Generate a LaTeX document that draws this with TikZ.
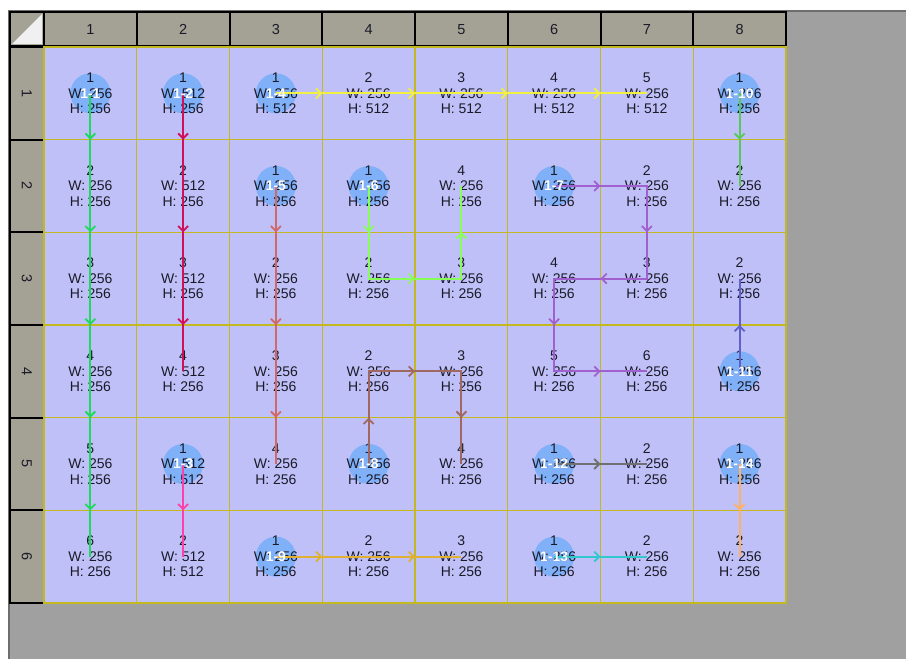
\documentclass[tikz,border=0pt]{standalone}
\usepackage{fontspec}
\setmainfont{Liberation Sans}
\usetikzlibrary{arrows.meta,decorations.markings}
\pgfdeclarelayer{background}
\pgfsetlayers{background,main}

\definecolor{panel}{HTML}{A0A0A0}
\definecolor{rim}{HTML}{6E6E6E}
\definecolor{headfill}{HTML}{A4A295}
\definecolor{tilefill}{HTML}{C0C0F8}
\definecolor{gridline}{HTML}{C4B820}
\definecolor{bubble}{HTML}{80B0F8}
\definecolor{ink}{HTML}{1A1A28}
\definecolor{rgreen}{HTML}{20D860}
\definecolor{rcrimson}{HTML}{D0105A}
\definecolor{rpink}{HTML}{FF40A8}
\definecolor{ryellow}{HTML}{F0F040}
\definecolor{rsalmon}{HTML}{D06868}
\definecolor{rlime}{HTML}{88FF58}
\definecolor{rpurple}{HTML}{A060D0}
\definecolor{rbrown}{HTML}{A06860}
\definecolor{rgold}{HTML}{E0B030}
\definecolor{rleaf}{HTML}{58C858}
\definecolor{rslate}{HTML}{6060C8}
\definecolor{rgray}{HTML}{707070}
\definecolor{rcyan}{HTML}{30C8C8}
\definecolor{rorange}{HTML}{FFB060}

\tikzset{
  head/.style={fill=headfill,draw=black,line width=2pt,inner sep=0pt,text=ink,text height=10.2pt,text depth=0pt,font=\fontsize{14.5}{16}\selectfont},
  colhead/.style={head,minimum width=92.75pt,minimum height=34pt},
  rowhead/.style={head,rotate=-90,minimum width=92.67pt,minimum height=34pt},
  tile/.style={draw=gridline,line width=1.4pt,minimum width=92.75pt,minimum height=92.67pt,inner sep=0pt,align=center,text=ink,font=\fontsize{14}{15.5}\selectfont},
  dot/.style={circle,fill=bubble,minimum size=40pt,inner sep=0pt},
  tag/.style={inner sep=0pt,text=white,font=\fontsize{14}{16}\selectfont\bfseries},
  route/.style={line width=1.8pt,line join=miter,postaction={decorate,decoration={markings,
    mark=between positions 0.5/#1 and 1 step 1/#1 with {\arrow{Straight Barb[length=5pt,width=10pt]}}}}}
}

\begin{document}
\begin{tikzpicture}[x=1pt,y=-1pt]
\path[use as bounding box] (0,0) rectangle (906,659);
% header row and column
\node[head,minimum size=34pt] (corner) at (27,29) {};
\fill[white!94!black] ([shift={(3pt,3pt)}]corner.south west) -- ([shift={(-3pt,3pt)}]corner.south east) -- ([shift={(-3pt,-3pt)}]corner.north east) -- cycle;
\node[colhead] (h1) at (90.38,29) {1};
\node[colhead] (h2) at (183.13,29) {2};
\node[colhead] (h3) at (275.88,29) {3};
\node[colhead] (h4) at (368.63,29) {4};
\node[colhead] (h5) at (461.38,29) {5};
\node[colhead] (h6) at (554.13,29) {6};
\node[colhead] (h7) at (646.88,29) {7};
\node[colhead] (h8) at (739.63,29) {8};
\node[rowhead] (v1) at (27,93.33) {1};
\node[rowhead] (v2) at (27,186.00) {2};
\node[rowhead] (v3) at (27,278.67) {3};
\node[rowhead] (v4) at (27,371.33) {4};
\node[rowhead] (v5) at (27,464.00) {5};
\node[rowhead] (v6) at (27,556.67) {6};
% tiles
\node[tile] (c11) at (90.38,93.33) {1\\W: 256\\H: 256};
\node[tile] (c12) at (90.38,186.00) {2\\W: 256\\H: 256};
\node[tile] (c13) at (90.38,278.67) {3\\W: 256\\H: 256};
\node[tile] (c14) at (90.38,371.33) {4\\W: 256\\H: 256};
\node[tile] (c15) at (90.38,464.00) {5\\W: 256\\H: 256};
\node[tile] (c16) at (90.38,556.67) {6\\W: 256\\H: 256};
\node[tile] (c21) at (183.13,93.33) {1\\W: 512\\H: 256};
\node[tile] (c22) at (183.13,186.00) {2\\W: 512\\H: 256};
\node[tile] (c23) at (183.13,278.67) {3\\W: 512\\H: 256};
\node[tile] (c24) at (183.13,371.33) {4\\W: 512\\H: 256};
\node[tile] (c25) at (183.13,464.00) {1\\W: 512\\H: 512};
\node[tile] (c26) at (183.13,556.67) {2\\W: 512\\H: 512};
\node[tile] (c31) at (275.88,93.33) {1\\W: 256\\H: 512};
\node[tile] (c32) at (275.88,186.00) {1\\W: 256\\H: 256};
\node[tile] (c33) at (275.88,278.67) {2\\W: 256\\H: 256};
\node[tile] (c34) at (275.88,371.33) {3\\W: 256\\H: 256};
\node[tile] (c35) at (275.88,464.00) {4\\W: 256\\H: 256};
\node[tile] (c36) at (275.88,556.67) {1\\W: 256\\H: 256};
\node[tile] (c41) at (368.63,93.33) {2\\W: 256\\H: 512};
\node[tile] (c42) at (368.63,186.00) {1\\W: 256\\H: 256};
\node[tile] (c43) at (368.63,278.67) {2\\W: 256\\H: 256};
\node[tile] (c44) at (368.63,371.33) {2\\W: 256\\H: 256};
\node[tile] (c45) at (368.63,464.00) {1\\W: 256\\H: 256};
\node[tile] (c46) at (368.63,556.67) {2\\W: 256\\H: 256};
\node[tile] (c51) at (461.38,93.33) {3\\W: 256\\H: 512};
\node[tile] (c52) at (461.38,186.00) {4\\W: 256\\H: 256};
\node[tile] (c53) at (461.38,278.67) {3\\W: 256\\H: 256};
\node[tile] (c54) at (461.38,371.33) {3\\W: 256\\H: 256};
\node[tile] (c55) at (461.38,464.00) {4\\W: 256\\H: 256};
\node[tile] (c56) at (461.38,556.67) {3\\W: 256\\H: 256};
\node[tile] (c61) at (554.13,93.33) {4\\W: 256\\H: 512};
\node[tile] (c62) at (554.13,186.00) {1\\W: 256\\H: 256};
\node[tile] (c63) at (554.13,278.67) {4\\W: 256\\H: 256};
\node[tile] (c64) at (554.13,371.33) {5\\W: 256\\H: 256};
\node[tile] (c65) at (554.13,464.00) {1\\W: 256\\H: 256};
\node[tile] (c66) at (554.13,556.67) {1\\W: 256\\H: 256};
\node[tile] (c71) at (646.88,93.33) {5\\W: 256\\H: 512};
\node[tile] (c72) at (646.88,186.00) {2\\W: 256\\H: 256};
\node[tile] (c73) at (646.88,278.67) {3\\W: 256\\H: 256};
\node[tile] (c74) at (646.88,371.33) {6\\W: 256\\H: 256};
\node[tile] (c75) at (646.88,464.00) {2\\W: 256\\H: 256};
\node[tile] (c76) at (646.88,556.67) {2\\W: 256\\H: 256};
\node[tile] (c81) at (739.63,93.33) {1\\W: 256\\H: 256};
\node[tile] (c82) at (739.63,186.00) {2\\W: 256\\H: 256};
\node[tile] (c83) at (739.63,278.67) {2\\W: 256\\H: 256};
\node[tile] (c84) at (739.63,371.33) {1\\W: 256\\H: 256};
\node[tile] (c85) at (739.63,464.00) {1\\W: 256\\H: 256};
\node[tile] (c86) at (739.63,556.67) {2\\W: 256\\H: 256};
% panel, tile fill and bubbles go underneath
\begin{pgfonlayer}{background}
\fill[white] (0,0) rectangle (906,659);
\fill[panel] (8,10) rectangle (906,659);
\draw[rim,line width=1.5pt] (8.75,659) -- (8.75,10.75) -- (906,10.75);
\fill[tilefill] (44,47) rectangle (786,603);
\node[dot] (k11) at (c11) {};
\node[dot] (k21) at (c21) {};
\node[dot] (k25) at (c25) {};
\node[dot] (k31) at (c31) {};
\node[dot] (k32) at (c32) {};
\node[dot] (k42) at (c42) {};
\node[dot] (k62) at (c62) {};
\node[dot] (k45) at (c45) {};
\node[dot] (k36) at (c36) {};
\node[dot] (k81) at (c81) {};
\node[dot] (k84) at (c84) {};
\node[dot] (k65) at (c65) {};
\node[dot] (k66) at (c66) {};
\node[dot] (k85) at (c85) {};
\end{pgfonlayer}
% routes
\draw[route=5,rgreen] (c11.center) -- (c12.center) -- (c13.center) -- (c14.center) -- (c15.center) -- (c16.center);
\draw[route=3,rcrimson] (c21.center) -- (c22.center) -- (c23.center) -- (c24.center);
\draw[route=1,rpink] (c25.center) -- (c26.center);
\draw[route=4,ryellow] (c31.center) -- (c41.center) -- (c51.center) -- (c61.center) -- (c71.center);
\draw[route=3,rsalmon] (c32.center) -- (c33.center) -- (c34.center) -- (c35.center);
\draw[route=3,rlime] (c42.center) -- (c43.center) -- (c53.center) -- (c52.center);
\draw[route=5,rpurple] (c62.center) -- (c72.center) -- (c73.center) -- (c63.center) -- (c64.center) -- (c74.center);
\draw[route=3,rbrown] (c45.center) -- (c44.center) -- (c54.center) -- (c55.center);
\draw[route=2,rgold] (c36.center) -- (c46.center) -- (c56.center);
\draw[route=1,rleaf] (c81.center) -- (c82.center);
\draw[route=1,rslate] (c84.center) -- (c83.center);
\draw[route=1,rgray] (c65.center) -- (c75.center);
\draw[route=1,rcyan] (c66.center) -- (c76.center);
\draw[route=1,rorange] (c85.center) -- (c86.center);
% bubble tags
\node[tag] (t11) at (k11) {1-1};
\node[tag] (t21) at (k21) {1-2};
\node[tag] (t25) at (k25) {1-3};
\node[tag] (t31) at (k31) {1-4};
\node[tag] (t32) at (k32) {1-5};
\node[tag] (t42) at (k42) {1-6};
\node[tag] (t62) at (k62) {1-7};
\node[tag] (t45) at (k45) {1-8};
\node[tag] (t36) at (k36) {1-9};
\node[tag] (t81) at (k81) {1-10};
\node[tag] (t84) at (k84) {1-11};
\node[tag] (t65) at (k65) {1-12};
\node[tag] (t66) at (k66) {1-13};
\node[tag] (t85) at (k85) {1-14};
\end{tikzpicture}
\end{document}
